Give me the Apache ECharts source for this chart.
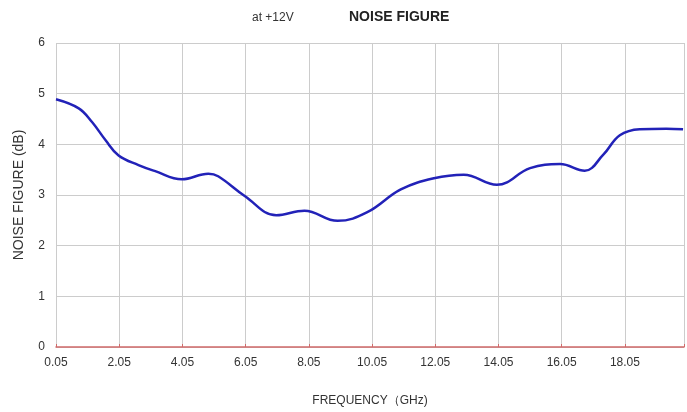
<!DOCTYPE html>
<html>
<head>
<meta charset="utf-8">
<script src="https://cdn.jsdelivr.net/npm/echarts@6/dist/echarts.min.js"></script>
<style>
html,body{margin:0;padding:0;background:#fff;}
#c{width:687px;height:412px;}
</style>
</head>
<body>
<div id="c"></div>
<script>
// Data
var freqGHz = [0.05, 0.77, 1.19, 1.62, 2.03, 2.66, 3.19, 4.03, 4.87, 5.18, 6.02, 7.02, 7.91, 8.96, 9.9, 10.96, 12.01, 12.95, 14.0, 15.05, 16.0, 16.78, 17.36, 17.89, 18.52, 19.36, 19.89];
var noiseDb = [4.89, 4.71, 4.44, 4.08, 3.78, 3.59, 3.47, 3.31, 3.42, 3.37, 2.98, 2.60, 2.69, 2.49, 2.66, 3.11, 3.33, 3.40, 3.20, 3.53, 3.61, 3.48, 3.79, 4.18, 4.30, 4.31, 4.30];
var xTickLabels = ['0.05', '2.05', '4.05', '6.05', '8.05', '10.05', '12.05', '14.05', '16.05', '18.05'];
var freqStart = 0.05;

var seriesData = freqGHz.map(function (f, i) { return [f - freqStart, noiseDb[i]]; });

var chart = echarts.init(document.getElementById('c'));
chart.setOption({
  animation: false,
  backgroundColor: '#fff',
  title: [
    { text: 'at +12V', left: 247, top: 7, textStyle: { fontSize: 12, fontWeight: 'normal', color: '#333', fontFamily: 'Liberation Sans' } },
    { text: 'NOISE FIGURE', left: 344, top: 5, textStyle: { fontSize: 14, fontWeight: 'bold', color: '#222', fontFamily: 'Liberation Sans' } }
  ],
  grid: { left: 56, right: 0, top: 43, bottom: 60, containLabel: false },
  xAxis: {
    type: 'value',
    min: 0,
    max: 19.87,
    interval: 2,
    name: 'FREQUENCY（GHz)',
    nameLocation: 'middle',
    nameGap: 48,
    nameTextStyle: { fontSize: 12, color: '#333', fontFamily: 'Liberation Sans' },
    axisLine: { show: true, lineStyle: { color: '#d06a6a', width: 1.5 } },
    axisTick: { show: true, inside: true, length: 3, lineStyle: { color: '#d06a6a' } },
    axisLabel: {
      fontSize: 12, color: '#333', fontFamily: 'Liberation Sans', margin: 10,
      formatter: function (v) { var i = Math.round(v / 2); return xTickLabels[i] !== undefined && Math.abs(v - i * 2) < 1e-6 ? xTickLabels[i] : ''; }
    },
    splitLine: { show: true, lineStyle: { color: '#cccccc', width: 1 } }
  },
  yAxis: {
    type: 'value',
    min: 0,
    max: 6,
    interval: 1,
    name: 'NOISE FIGURE (dB)',
    nameLocation: 'middle',
    nameGap: 30,
    nameTextStyle: { fontSize: 14, color: '#333', fontFamily: 'Liberation Sans' },
    axisLine: { show: false },
    axisTick: { show: false },
    axisLabel: { fontSize: 12, color: '#333', fontFamily: 'Liberation Sans', margin: 11 },
    splitLine: { show: true, lineStyle: { color: '#cccccc', width: 1 } }
  },
  series: [{
    type: 'line',
    data: seriesData,
    smooth: 0.4,
    showSymbol: false,
    lineStyle: { color: '#2222b8', width: 2.5 },
    itemStyle: { color: '#2222b8' },
    clip: true
  }]
});
</script>
</body>
</html>
